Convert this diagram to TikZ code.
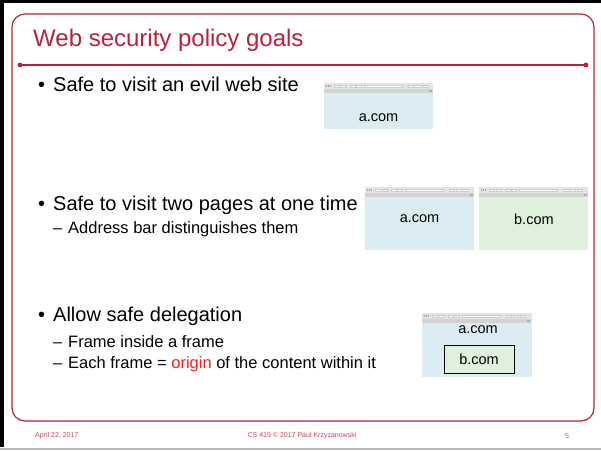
\documentclass[tikz,border=0pt]{standalone}
\usepackage{fontspec}
\setmainfont{Liberation Sans}
\usetikzlibrary{positioning,calc}
\usepackage{xcolor}
\definecolor{slidered}{HTML}{B8223A}
\definecolor{footred}{HTML}{C54A5E}
\definecolor{pageblue}{HTML}{DBEDF3}
\definecolor{pagegreen}{HTML}{DFF0DC}
\definecolor{bargray}{HTML}{D3D3D3}
\definecolor{barlight}{HTML}{E4E4E4}
\definecolor{originred}{HTML}{FF1A1A}

\begin{document}
\begin{tikzpicture}[
  x=1pt, y=-1pt,
  bullet/.style={anchor=west, inner sep=0pt, font=\fontsize{20}{22}\selectfont},
  subbullet/.style={anchor=west, inner sep=0pt, font=\fontsize{16.5}{18}\selectfont},
  foot/.style={inner sep=0pt, text=footred, font=\fontsize{7}{8}\selectfont},
  page/.style={inner sep=0pt, minimum width=109pt, minimum height=46pt},
  site/.style={inner sep=0pt, font=\fontsize{14.5}{16}\selectfont},
  toolbar/.pic={
    \fill[barlight] (0,0) rectangle (109,6.5);
    \fill[bargray] (0,6.5) rectangle (109,10);
    \fill[gray!60] (105,7) rectangle (108,9.5);
    \foreach \dx in {2.5,4.5,6.5}
      \fill[gray!70!black] (\dx,3.2) circle (0.6);
    \foreach \bx in {10,17,26,32}
      \draw[gray!40, fill=white, line width=0.3pt] (\bx,2) rectangle ++(5,2.4);
    \draw[gray!40, fill=white, line width=0.3pt] (40,2) rectangle (78,4.4);
    \foreach \bx in {84,91,98}
      \draw[gray!40, fill=white, line width=0.3pt] (\bx,2) rectangle ++(5,2.4);
  }
]
% slide background and border
\fill[white] (0,0) rectangle (601,450);
\fill[black] (0,0) rectangle (601,2.5);
\fill[black] (0,0) rectangle (3.5,447);
\fill[gray!55] (0,447.5) rectangle (601,450);
\draw[slidered, line width=1.2pt, rounded corners=13pt] (12,14) rectangle (594,421);

% title
\node[anchor=west, inner sep=0pt, text=slidered, font=\fontsize{24}{26}\selectfont]
  (title) at (33,40) {Web security policy goals};
\coordinate (ruleL) at (20,65);
\coordinate (ruleR) at (586,65);
\draw[slidered, line width=1.2pt] (ruleL) -- (ruleR);
\fill[slidered] (ruleL) circle (2.4) (ruleR) circle (2.4);

% bullets
\node[bullet] (evilitem) at (38,84)
  {\makebox[15pt][l]{\textbullet}Safe to visit an evil web site};
\node[bullet] (twoitem) at (38,205)
  {\makebox[15pt][l]{\textbullet}Safe to visit two pages at one time};
\node[subbullet] (addrbar) at (53,229)
  {\makebox[15pt][l]{--}Address bar distinguishes them};
\node[bullet] (delegitem) at (38,316)
  {\makebox[15pt][l]{\textbullet}Allow safe delegation};
\node[subbullet] (frameitem) at (53,342)
  {\makebox[15pt][l]{--}Frame inside a frame};
\node[subbullet] (originitem) at (53,364)
  {\makebox[15pt][l]{--}Each frame = \textcolor{originred}{origin} of the content within it};

% browser windows
\node[page, fill=pageblue] (evil) at (378.5,106) {};
\pic at (evil.north west) {toolbar};
\node[site] (evilname) at ($(evil.center)+(0,12)$) {a.com};

\node[page, fill=pageblue, minimum height=63pt] (pageA) at (419.5,218.5) {};
\node[page, fill=pagegreen, minimum height=63pt, right=5pt of pageA] (pageB) {};
\pic at (pageA.north west) {toolbar};
\pic at (pageB.north west) {toolbar};
\node[site] (nameA) at ($(pageA.center)+(0,0.5)$) {a.com};
\node[site] (nameB) at ($(pageB.center)+(0,0.5)$) {b.com};

\node[page, fill=pageblue, minimum width=110pt, minimum height=64pt] (outer) at (477,345) {};
\pic at (outer.north west) {toolbar};
\node[site] (outername) at ($(outer.center)+(1,-15)$) {a.com};
\node[site, draw=black, line width=0.8pt, fill=pagegreen, minimum width=70pt,
  minimum height=28pt] (inner) at (479,359) {b.com};

% footer
\node[foot, anchor=west] (date) at (35,436) {April 22, 2017};
\node[foot] (course) at (302,436) {CS 419 \textcopyright\ 2017 Paul Krzyzanowski};
\node[foot] (pageno) at (567,436) {5};
\end{tikzpicture}
\end{document}
